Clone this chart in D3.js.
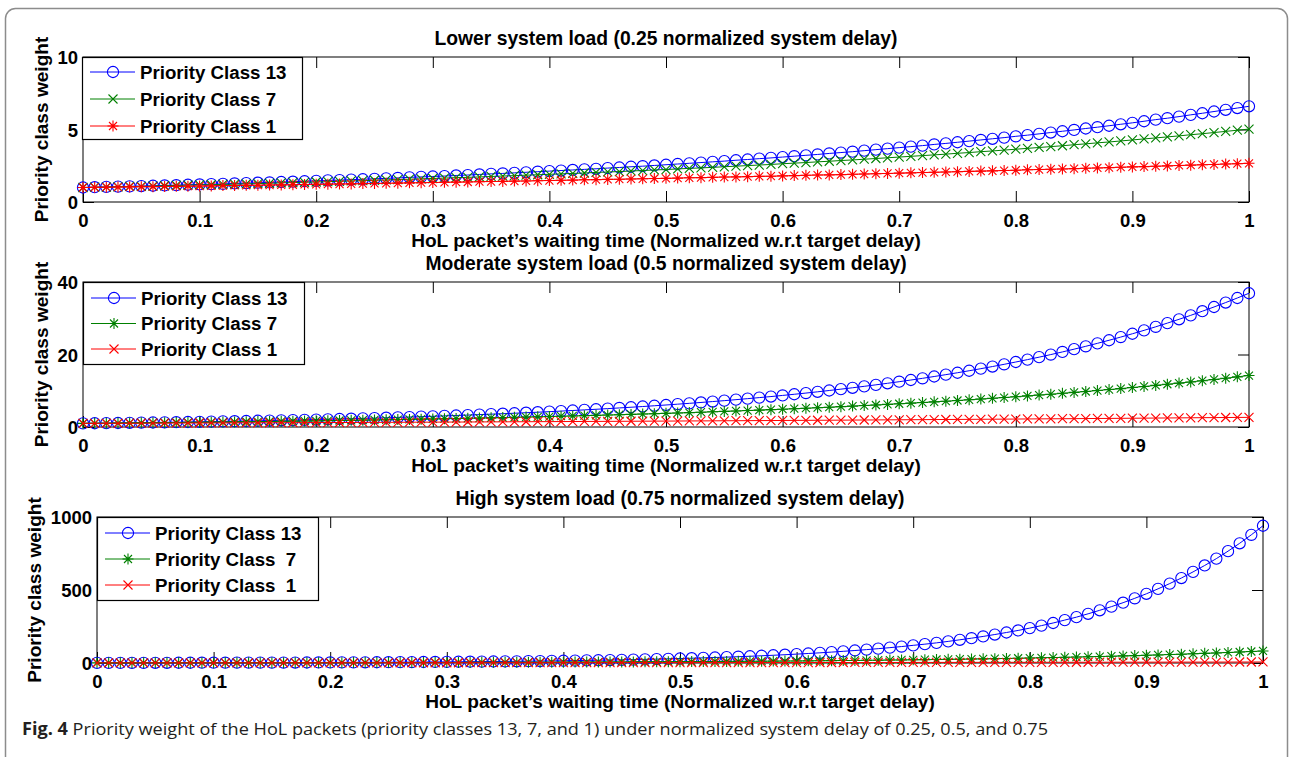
<!DOCTYPE html>
<html><head><meta charset="utf-8">
<script src="https://cdn.jsdelivr.net/npm/d3@7"></script>
<style>
body{margin:0;background:#fff;}
svg{display:block;}
</style>
</head><body>
<svg id="chart" width="1289" height="757"></svg>
<script>
// ---------------- DATA ----------------
const waitTime = d3.range(101).map(i => i / 100);
const xTickValues = [0, 0.1, 0.2, 0.3, 0.4, 0.5, 0.6, 0.7, 0.8, 0.9, 1];
const xTickLabels = ["0", "0.1", "0.2", "0.3", "0.4", "0.5", "0.6", "0.7", "0.8", "0.9", "1"];

const panelTitles = [
  "Lower system load (0.25 normalized system delay)",
  "Moderate system load (0.5 normalized system delay)",
  "High system load (0.75 normalized system delay)"
];
const xAxisLabel = "HoL packet\u2019s waiting time (Normalized w.r.t target delay)";
const yAxisLabel = "Priority class weight";

const yTicksLow = [0, 5, 10];
const yTicksModerate = [0, 20, 40];
const yTicksHigh = [0, 500, 1000];

const legendLow = ["Priority Class 13", "Priority Class 7", "Priority Class 1"];
const legendModerate = ["Priority Class 13", "Priority Class 7", "Priority Class 1"];
const legendHigh = ["Priority Class 13", "Priority Class  7", "Priority Class  1"];

// Lower system load
const lowClass13 = [1.00,1.02,1.04,1.06,1.08,1.10,1.12,1.14,1.16,1.19,
1.21,1.23,1.25,1.28,1.30,1.33,1.35,1.38,1.40,1.43,
1.46,1.49,1.51,1.54,1.57,1.60,1.63,1.66,1.70,1.73,
1.76,1.79,1.83,1.86,1.90,1.94,1.97,2.01,2.05,2.09,
2.13,2.17,2.21,2.25,2.29,2.34,2.38,2.43,2.47,2.52,
2.57,2.62,2.67,2.72,2.77,2.82,2.88,2.93,2.99,3.04,
3.10,3.16,3.22,3.28,3.35,3.41,3.47,3.54,3.61,3.68,
3.75,3.82,3.89,3.97,4.04,4.12,4.20,4.28,4.36,4.44,
4.53,4.61,4.70,4.79,4.88,4.97,5.07,5.16,5.26,5.36,
5.46,5.57,5.68,5.78,5.89,6.01,6.12,6.24,6.36,6.48,
6.60];
const lowClass7 = [1.00,1.02,1.03,1.05,1.07,1.08,1.10,1.12,1.14,1.16,
1.18,1.19,1.21,1.23,1.25,1.27,1.29,1.32,1.34,1.36,
1.38,1.40,1.43,1.45,1.47,1.50,1.52,1.55,1.57,1.60,
1.62,1.65,1.68,1.70,1.73,1.76,1.79,1.82,1.85,1.88,
1.91,1.94,1.97,2.00,2.04,2.07,2.10,2.14,2.17,2.21,
2.24,2.28,2.32,2.35,2.39,2.43,2.47,2.51,2.55,2.59,
2.64,2.68,2.72,2.77,2.81,2.86,2.90,2.95,3.00,3.05,
3.10,3.15,3.20,3.25,3.30,3.36,3.41,3.47,3.52,3.58,
3.64,3.70,3.76,3.82,3.88,3.95,4.01,4.08,4.14,4.21,
4.28,4.35,4.42,4.49,4.56,4.64,4.71,4.79,4.87,4.95,
5.03];
const lowClass1 = [1.00,1.01,1.02,1.03,1.04,1.05,1.06,1.07,1.08,1.09,
1.10,1.11,1.13,1.14,1.15,1.16,1.17,1.18,1.19,1.21,
1.22,1.23,1.24,1.25,1.27,1.28,1.29,1.30,1.32,1.33,
1.34,1.36,1.37,1.38,1.40,1.41,1.42,1.44,1.45,1.47,
1.48,1.50,1.51,1.53,1.54,1.56,1.57,1.59,1.60,1.62,
1.63,1.65,1.67,1.68,1.70,1.72,1.73,1.75,1.77,1.78,
1.80,1.82,1.84,1.86,1.87,1.89,1.91,1.93,1.95,1.97,
1.99,2.01,2.03,2.05,2.07,2.09,2.11,2.13,2.15,2.17,
2.19,2.22,2.24,2.26,2.28,2.30,2.33,2.35,2.37,2.40,
2.42,2.44,2.47,2.49,2.52,2.54,2.57,2.59,2.62,2.64,
2.67];

// Moderate system load
const modClass13 = [1.00,1.04,1.07,1.11,1.16,1.20,1.24,1.29,1.33,1.38,
1.43,1.49,1.54,1.60,1.66,1.72,1.78,1.85,1.91,1.98,
2.06,2.13,2.21,2.29,2.38,2.46,2.56,2.65,2.75,2.85,
2.95,3.06,3.17,3.29,3.41,3.54,3.67,3.80,3.94,4.08,
4.23,4.39,4.55,4.72,4.89,5.07,5.26,5.45,5.65,5.86,
6.07,6.30,6.53,6.77,7.02,7.27,7.54,7.82,8.11,8.40,
8.71,9.03,9.36,9.71,10.07,10.44,10.82,11.22,11.63,12.06,
12.50,12.96,13.43,13.93,14.44,14.97,15.52,16.09,16.68,17.29,
17.93,18.59,19.27,19.98,20.71,21.47,22.26,23.08,23.93,24.81,
25.72,26.66,27.64,28.66,29.71,30.80,31.94,33.11,34.33,35.59,
36.89];
const modClass7 = [1.00,1.03,1.05,1.08,1.11,1.14,1.17,1.20,1.24,1.27,
1.30,1.34,1.37,1.41,1.45,1.49,1.53,1.57,1.61,1.66,
1.70,1.75,1.79,1.84,1.89,1.94,1.99,2.05,2.10,2.16,
2.22,2.28,2.34,2.40,2.46,2.53,2.60,2.67,2.74,2.81,
2.89,2.97,3.05,3.13,3.21,3.30,3.39,3.48,3.57,3.67,
3.77,3.87,3.97,4.08,4.19,4.30,4.42,4.54,4.66,4.78,
4.91,5.04,5.18,5.32,5.46,5.61,5.76,5.92,6.07,6.24,
6.41,6.58,6.75,6.94,7.12,7.31,7.51,7.71,7.92,8.13,
8.35,8.58,8.81,9.04,9.29,9.54,9.79,10.06,10.33,10.60,
10.89,11.18,11.48,11.79,12.11,12.43,12.77,13.11,13.46,13.83,
14.20];
const modClass1 = [1.00,1.01,1.02,1.03,1.04,1.05,1.06,1.07,1.08,1.09,
1.10,1.11,1.13,1.14,1.15,1.16,1.17,1.18,1.19,1.21,
1.22,1.23,1.24,1.25,1.27,1.28,1.29,1.30,1.32,1.33,
1.34,1.36,1.37,1.38,1.40,1.41,1.42,1.44,1.45,1.47,
1.48,1.50,1.51,1.53,1.54,1.56,1.57,1.59,1.60,1.62,
1.63,1.65,1.67,1.68,1.70,1.72,1.73,1.75,1.77,1.78,
1.80,1.82,1.84,1.86,1.87,1.89,1.91,1.93,1.95,1.97,
1.99,2.01,2.03,2.05,2.07,2.09,2.11,2.13,2.15,2.17,
2.19,2.22,2.24,2.26,2.28,2.30,2.33,2.35,2.37,2.40,
2.42,2.44,2.47,2.49,2.52,2.54,2.57,2.59,2.62,2.64,
2.66];

// High system load
const highClass13 = [1.0,1.1,1.1,1.2,1.3,1.4,1.5,1.6,1.7,1.9,
2.0,2.1,2.3,2.4,2.6,2.8,3.0,3.2,3.4,3.7,
3.9,4.2,4.5,4.8,5.2,5.5,5.9,6.4,6.8,7.3,
7.8,8.4,8.9,9.6,10.3,11.0,11.8,12.6,13.5,14.4,
15.5,16.6,17.7,19.0,20.3,21.8,23.3,25.0,26.7,28.6,
30.7,32.8,35.2,37.7,40.3,43.2,46.2,49.5,53.0,56.8,
60.8,65.1,69.7,74.7,80.0,85.6,91.7,98.2,105.2,112.6,
121,129,138,148,159,170,182,195,209,223,
239,256,274,294,314,337,361,386,413,443,
474,508,544,582,624,668,715,766,820,878,
940];
const highClass7 = [1.0,1.0,1.1,1.1,1.2,1.2,1.3,1.4,1.4,1.5,
1.6,1.6,1.7,1.8,1.9,1.9,2.0,2.1,2.2,2.3,
2.4,2.5,2.6,2.8,2.9,3.0,3.1,3.3,3.4,3.6,
3.8,3.9,4.1,4.3,4.5,4.7,4.9,5.1,5.3,5.6,
5.8,6.1,6.4,6.7,7.0,7.3,7.6,7.9,8.3,8.7,
9.1,9.5,9.9,10.4,10.8,11.3,11.8,12.4,12.9,13.5,
14.1,14.7,15.4,16.1,16.8,17.6,18.4,19.2,20.1,21.0,
21.9,22.9,23.9,25.0,26.1,27.3,28.5,29.8,31.2,32.6,
34.1,35.6,37.2,38.9,40.6,42.5,44.4,46.4,48.5,50.6,
52.9,55.3,57.8,60.4,63.1,66.0,69.0,72.1,75.3,78.7,
82.3];
const highClass1 = [1.0,1.0,1.0,1.1,1.1,1.1,1.1,1.1,1.2,1.2,
1.2,1.2,1.3,1.3,1.3,1.3,1.4,1.4,1.4,1.4,
1.5,1.5,1.5,1.6,1.6,1.6,1.7,1.7,1.7,1.8,
1.8,1.8,1.9,1.9,1.9,2.0,2.0,2.1,2.1,2.1,
2.2,2.2,2.3,2.3,2.4,2.4,2.5,2.5,2.5,2.6,
2.7,2.7,2.8,2.8,2.9,2.9,3.0,3.0,3.1,3.2,
3.2,3.3,3.4,3.4,3.5,3.6,3.6,3.7,3.8,3.8,
3.9,4.0,4.1,4.2,4.2,4.3,4.4,4.5,4.6,4.7,
4.8,4.9,4.9,5.0,5.1,5.2,5.3,5.5,5.6,5.7,
5.8,5.9,6.0,6.1,6.3,6.4,6.5,6.6,6.8,6.9,
7.0];

const captionBold = "Fig. 4";
const captionText = " Priority weight of the HoL packets (priority classes 13, 7, and 1) under normalized system delay of 0.25, 0.5, and 0.75";

// ---------------- STYLE / LAYOUT ----------------
const BLUE = "#0000ff", GREEN = "#008000", RED = "#ff0000";
const FONT = "'Liberation Sans', Arial, Helvetica, sans-serif";
const INK = "#000";

const markerPaths = {
  circle: d3.symbol(d3.symbolCircle, Math.PI * 5.6 * 5.6)(),
  x: "M-4.5,-4.5L4.5,4.5M-4.5,4.5L4.5,-4.5",
  star: "M-5.5,0H5.5M0,-5.5V5.5M-4,-4L4,4M-4,4L4,-4"
};

const panels = [
  { box: {l: 83, r: 1249, t: 57, b: 202}, yMax: 10, yTicks: yTicksLow, title: panelTitles[0],
    yLabelX: 48, legend: {x: 82, y: 57, w: 220, h: 82, rows: [72, 99, 126]},
    series: [
      {values: lowClass13, color: BLUE, marker: "circle", label: legendLow[0]},
      {values: lowClass7, color: GREEN, marker: "x", label: legendLow[1]},
      {values: lowClass1, color: RED, marker: "star", label: legendLow[2]}
    ]},
  { box: {l: 83, r: 1249, t: 282, b: 427}, yMax: 40, yTicks: yTicksModerate, title: panelTitles[1],
    yLabelX: 48, legend: {x: 83, y: 282, w: 221, h: 82, rows: [298, 323.5, 349]},
    series: [
      {values: modClass13, color: BLUE, marker: "circle", label: legendModerate[0]},
      {values: modClass7, color: GREEN, marker: "star", label: legendModerate[1]},
      {values: modClass1, color: RED, marker: "x", label: legendModerate[2]}
    ]},
  { box: {l: 97, r: 1263, t: 517, b: 663}, yMax: 1000, yTicks: yTicksHigh, title: panelTitles[2],
    yLabelX: 41, legend: {x: 97, y: 517, w: 221, h: 83, rows: [533, 559, 585]},
    series: [
      {values: highClass13, color: BLUE, marker: "circle", label: legendHigh[0]},
      {values: highClass7, color: GREEN, marker: "star", label: legendHigh[1]},
      {values: highClass1, color: RED, marker: "x", label: legendHigh[2]}
    ]}
];

const svg = d3.select("#chart");
svg.append("rect").attr("width", 1289).attr("height", 757).attr("fill", "#fff");

// outer frame (rounded, right/bottom edges fall outside the picture)
svg.append("rect")
  .attr("x", 5.5).attr("y", 8.5).attr("width", 1282).attr("height", 800)
  .attr("rx", 10).attr("ry", 10)
  .attr("fill", "none").attr("stroke", "#8c8c8c").attr("stroke-width", 1.5);

function styleText(sel, size) {
  sel.attr("font-family", FONT).attr("font-weight", "bold").attr("font-size", size).attr("fill", INK);
}

panels.forEach(p => {
  const {l, r, t, b} = p.box;
  const x = d3.scaleLinear().domain([0, 1]).range([l, r]);
  const y = d3.scaleLinear().domain([0, p.yMax]).range([b, t]);
  const g = svg.append("g");

  // axes box
  g.append("rect").attr("x", l).attr("y", t).attr("width", r - l).attr("height", b - t)
    .attr("fill", "#fff").attr("stroke", "#000").attr("stroke-width", 1);

  const TICK = 11;
  const gx = g.append("g").attr("transform", `translate(0,${b})`)
    .call(d3.axisBottom(x).tickValues(xTickValues).tickSizeInner(-TICK).tickSizeOuter(0)
      .tickFormat((d, i) => xTickLabels[i]));
  gx.select(".domain").remove();
  gx.selectAll("text").attr("y", 24.5).attr("dy", null).call(styleText, "18.5px");

  const gxt = g.append("g").attr("transform", `translate(0,${t})`)
    .call(d3.axisTop(x).tickValues(xTickValues).tickSizeInner(-TICK).tickSizeOuter(0).tickFormat(""));
  gxt.select(".domain").remove();

  const gy = g.append("g").attr("transform", `translate(${l},0)`)
    .call(d3.axisLeft(y).tickValues(p.yTicks).tickSizeInner(-TICK).tickSizeOuter(0).tickPadding(5)
      .tickFormat(d3.format("d")));
  gy.select(".domain").remove();
  gy.selectAll("text").attr("dy", "0.36em").call(styleText, "18.5px");

  const gyr = g.append("g").attr("transform", `translate(${r},0)`)
    .call(d3.axisRight(y).tickValues(p.yTicks).tickSizeInner(-TICK).tickSizeOuter(0).tickFormat(""));
  gyr.select(".domain").remove();
  g.selectAll(".tick line").attr("stroke", "#000").attr("stroke-width", 1);

  g.append("text").attr("x", (l + r) / 2).attr("y", t - 12)
    .attr("text-anchor", "middle").call(styleText, "19.3px").text(p.title);
  g.append("text").attr("x", (l + r) / 2).attr("y", b + 45)
    .attr("text-anchor", "middle").call(styleText, "19.1px").text(xAxisLabel);
  g.append("text").attr("transform", `translate(${p.yLabelX},${(t + b) / 2}) rotate(-90)`)
    .attr("text-anchor", "middle").call(styleText, "19.1px").text(yAxisLabel);

  // series
  p.series.forEach(s => {
    const pts = s.values.map((v, i) => [waitTime[i], v]);
    g.append("path").datum(pts)
      .attr("fill", "none").attr("stroke", s.color).attr("stroke-width", 1)
      .attr("d", d3.line().x(d => x(d[0])).y(d => y(d[1])));
    g.append("g").selectAll("path").data(pts).join("path")
      .attr("transform", d => `translate(${x(d[0])},${y(d[1])})`)
      .attr("d", markerPaths[s.marker])
      .attr("fill", "none").attr("stroke", s.color).attr("stroke-width", 1.1);
  });

  // legend
  const L = p.legend;
  const lg = g.append("g");
  lg.append("rect").attr("x", L.x + 0.5).attr("y", L.y + 0.5).attr("width", L.w).attr("height", L.h)
    .attr("fill", "#fff").attr("stroke", "#000").attr("stroke-width", 1.2);
  p.series.forEach((s, i) => {
    const ry = L.rows[i];
    lg.append("line").attr("x1", L.x + 8).attr("x2", L.x + 53).attr("y1", ry).attr("y2", ry)
      .attr("stroke", s.color).attr("stroke-width", 1);
    lg.append("path").attr("transform", `translate(${L.x + 31},${ry})`).attr("d", markerPaths[s.marker])
      .attr("fill", "none").attr("stroke", s.color).attr("stroke-width", 1.1);
    lg.append("text").attr("x", L.x + 58).attr("y", ry).attr("dy", "0.36em")
      .style("white-space", "pre").call(styleText, "18.7px")
      .text(s.label);
  });
});

// caption
const cap = svg.append("text").attr("x", 22).attr("y", 735)
  .attr("font-family", "'Open Sans', 'Noto Sans', sans-serif").attr("font-size", "17px").attr("fill", "#231f20")
  .attr("textLength", 1026).attr("lengthAdjust", "spacingAndGlyphs");
cap.append("tspan").attr("font-weight", "bold").text(captionBold);
cap.append("tspan").style("white-space", "pre").text(captionText);
</script>
</body></html>
